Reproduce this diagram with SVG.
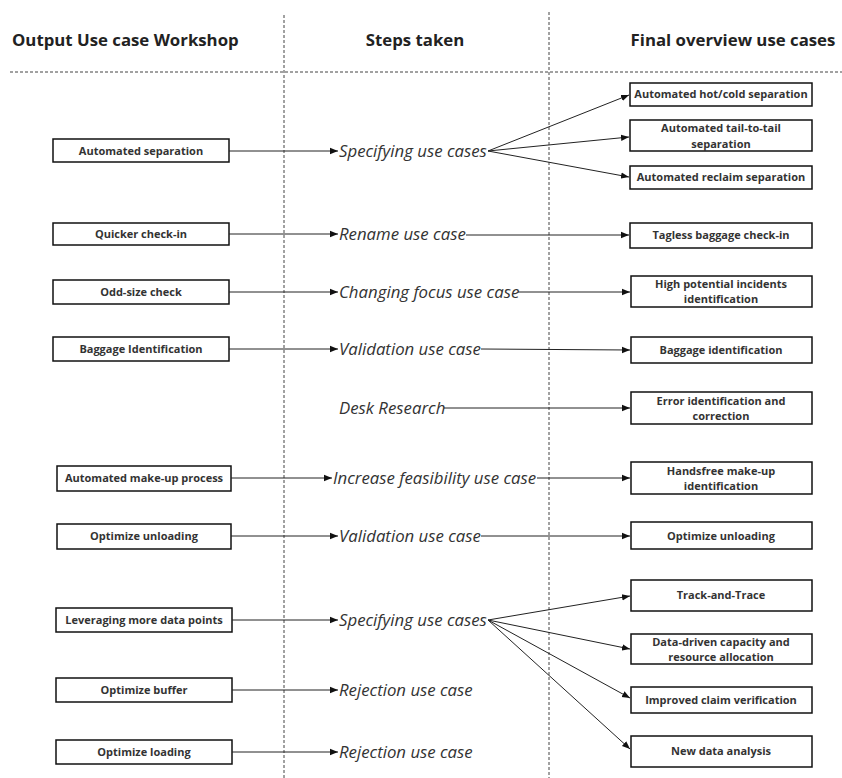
<svg xmlns="http://www.w3.org/2000/svg" width="842" height="778" viewBox="0 0 842 778">
  <style>
    .hdr { font-family: "Open Sans", "Liberation Sans", sans-serif; font-weight: bold; font-size: 16.8px; fill: #222; }
    .box { fill: #fff; stroke: #111; stroke-width: 1.5; }
    .lbl { font-family: "Open Sans", "Liberation Sans", sans-serif; font-weight: bold; font-size: 11px; fill: #333; text-anchor: middle; }
    .step { font-family: "Open Sans", "Liberation Sans", sans-serif; font-style: italic; font-size: 16.8px; fill: #333; }
    .sep { stroke: #444; stroke-width: 1; stroke-dasharray: 3 2; fill: none; }
    .conn line { stroke: #222; stroke-width: 1; marker-end: url(#arrow); }
  </style>
  <defs>
    <marker id="arrow" viewBox="0 0 10 10" refX="10" refY="5" markerWidth="8" markerHeight="8" markerUnits="userSpaceOnUse" orient="auto">
      <path d="M0,1 L10,5 L0,9 z" fill="#111"/>
    </marker>
  </defs>
  <rect width="842" height="778" fill="#fff"/>

  <!-- column separators -->
  <g id="separators">
    <line class="sep" x1="284" y1="15" x2="284" y2="778"/>
    <line class="sep" x1="549" y1="12" x2="549" y2="778"/>
    <line class="sep" x1="10" y1="72" x2="842" y2="72"/>
  </g>

  <!-- column headers -->
  <g id="headers">
    <text class="hdr" x="12" y="46">Output Use case Workshop</text>
    <text class="hdr" x="415" y="46" text-anchor="middle">Steps taken</text>
    <text class="hdr" x="733" y="46" text-anchor="middle">Final overview use cases</text>
  </g>

  <!-- workshop outputs -->
  <g id="in-automated-separation"><rect class="box" x="53" y="139" width="176" height="23"/><text class="lbl" x="141" y="155">Automated separation</text></g>
  <g id="in-quicker-check-in"><rect class="box" x="53" y="223" width="176" height="22"/><text class="lbl" x="141" y="238">Quicker check-in</text></g>
  <g id="in-odd-size-check"><rect class="box" x="53" y="280" width="176" height="24"/><text class="lbl" x="141" y="296">Odd-size check</text></g>
  <g id="in-baggage-identification"><rect class="box" x="53" y="337" width="176" height="24"/><text class="lbl" x="141" y="353">Baggage Identification</text></g>
  <g id="in-make-up"><rect class="box" x="57" y="466" width="174" height="25"/><text class="lbl" x="144" y="482">Automated make-up process</text></g>
  <g id="in-optimize-unloading"><rect class="box" x="57" y="524" width="174" height="25"/><text class="lbl" x="144" y="540">Optimize unloading</text></g>
  <g id="in-data-points"><rect class="box" x="56" y="608" width="176" height="24"/><text class="lbl" x="144" y="624">Leveraging more data points</text></g>
  <g id="in-optimize-buffer"><rect class="box" x="56" y="678" width="176" height="24"/><text class="lbl" x="144" y="694">Optimize buffer</text></g>
  <g id="in-optimize-loading"><rect class="box" x="56" y="740" width="176" height="24"/><text class="lbl" x="144" y="756">Optimize loading</text></g>

  <!-- steps taken -->
  <g id="step-specifying-1"><text class="step" x="339" y="157">Specifying use cases</text></g>
  <g id="step-rename"><text class="step" x="339" y="240">Rename use case</text></g>
  <g id="step-changing-focus"><text class="step" x="339" y="298">Changing focus use case</text></g>
  <g id="step-validation-1"><text class="step" x="339" y="355">Validation use case</text></g>
  <g id="step-desk-research"><text class="step" x="339" y="414">Desk Research</text></g>
  <g id="step-feasibility"><text class="step" x="333" y="484">Increase feasibility use case</text></g>
  <g id="step-validation-2"><text class="step" x="339" y="542">Validation use case</text></g>
  <g id="step-specifying-2"><text class="step" x="339" y="626">Specifying use cases</text></g>
  <g id="step-rejection-1"><text class="step" x="339" y="696">Rejection use case</text></g>
  <g id="step-rejection-2"><text class="step" x="339" y="758">Rejection use case</text></g>

  <!-- final use cases -->
  <g id="out-hot-cold"><rect class="box" x="630" y="83" width="182" height="23"/><text class="lbl" x="721" y="98">Automated hot/cold separation</text></g>
  <g id="out-tail-to-tail"><rect class="box" x="630" y="120" width="182" height="31"/><text class="lbl" x="721" y="132">Automated tail-to-tail</text><text class="lbl" x="721" y="148">separation</text></g>
  <g id="out-reclaim"><rect class="box" x="630" y="166" width="182" height="23"/><text class="lbl" x="721" y="181">Automated reclaim separation</text></g>
  <g id="out-tagless"><rect class="box" x="630" y="223" width="182" height="25"/><text class="lbl" x="721" y="239">Tagless baggage check-in</text></g>
  <g id="out-high-potential"><rect class="box" x="631" y="276" width="181" height="31"/><text class="lbl" x="721" y="288">High potential incidents</text><text class="lbl" x="721" y="303">identification</text></g>
  <g id="out-baggage-identification"><rect class="box" x="631" y="337" width="181" height="26"/><text class="lbl" x="721" y="354">Baggage identification</text></g>
  <g id="out-error"><rect class="box" x="631" y="392" width="181" height="32"/><text class="lbl" x="721" y="405">Error identification and</text><text class="lbl" x="721" y="420">correction</text></g>
  <g id="out-handsfree"><rect class="box" x="631" y="462" width="181" height="32"/><text class="lbl" x="721" y="475">Handsfree make-up</text><text class="lbl" x="721" y="490">identification</text></g>
  <g id="out-optimize-unloading"><rect class="box" x="631" y="522" width="181" height="27"/><text class="lbl" x="721" y="540">Optimize unloading</text></g>
  <g id="out-track-trace"><rect class="box" x="631" y="580" width="181" height="31"/><text class="lbl" x="721" y="599">Track-and-Trace</text></g>
  <g id="out-data-driven"><rect class="box" x="631" y="634" width="181" height="30"/><text class="lbl" x="721" y="646">Data-driven capacity and</text><text class="lbl" x="721" y="661">resource allocation</text></g>
  <g id="out-claim"><rect class="box" x="631" y="687" width="181" height="26"/><text class="lbl" x="721" y="704">Improved claim verification</text></g>
  <g id="out-new-data"><rect class="box" x="631" y="736" width="181" height="31"/><text class="lbl" x="721" y="755">New data analysis</text></g>

  <!-- connectors -->
  <g id="connectors" class="conn">
    <line x1="229" y1="151" x2="338" y2="151"/>
    <line x1="229" y1="234" x2="338" y2="234"/>
    <line x1="229" y1="292" x2="338" y2="292"/>
    <line x1="229" y1="349" x2="338" y2="349"/>
    <line x1="231" y1="478" x2="332" y2="478"/>
    <line x1="231" y1="536" x2="338" y2="536"/>
    <line x1="232" y1="620" x2="338" y2="620"/>
    <line x1="232" y1="690" x2="338" y2="690"/>
    <line x1="232" y1="752" x2="338" y2="752"/>

    <line x1="488" y1="151" x2="629" y2="95"/>
    <line x1="488" y1="151" x2="629" y2="137"/>
    <line x1="488" y1="151" x2="629" y2="177"/>
    <line x1="466" y1="235" x2="629" y2="235"/>
    <line x1="518" y1="292" x2="630" y2="292"/>
    <line x1="481" y1="349" x2="630" y2="350"/>
    <line x1="444" y1="408" x2="630" y2="408"/>
    <line x1="537" y1="478" x2="630" y2="478"/>
    <line x1="481" y1="536" x2="630" y2="536"/>

    <line x1="488" y1="620" x2="630" y2="596"/>
    <line x1="488" y1="620" x2="630" y2="649"/>
    <line x1="488" y1="620" x2="630" y2="698"/>
    <line x1="488" y1="620" x2="630" y2="749"/>
  </g>
</svg>
